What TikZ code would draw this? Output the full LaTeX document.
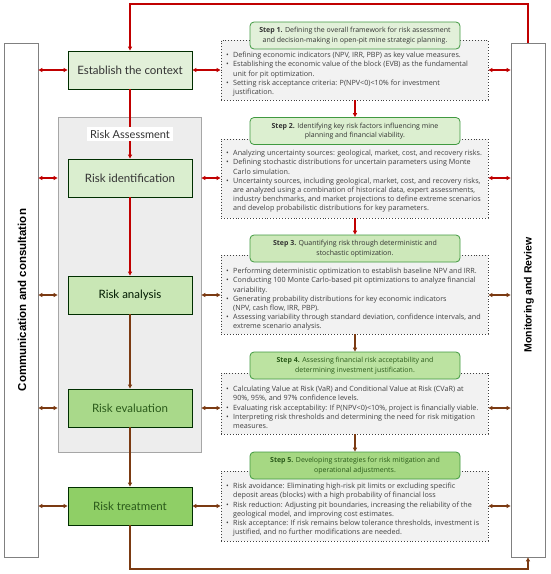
\documentclass[tikz,border=0pt]{standalone}
\usepackage{fontspec}
\setmainfont{Open Sans}
\newfontfamily\labfont{Lato}
\newfontfamily\sidefont{Liberation Sans}
\usetikzlibrary{arrows.meta}
\definecolor{cred}{HTML}{C00000}
\definecolor{cbrown}{HTML}{7B3A12}
\definecolor{gA}{HTML}{E2F0D9}
\definecolor{gB}{HTML}{DAEECF}
\definecolor{gC}{HTML}{C9E7B5}
\definecolor{gD}{HTML}{A9D98A}
\definecolor{gE}{HTML}{8FCF66}
\definecolor{sA}{HTML}{E2F0D9}
\definecolor{sB}{HTML}{DCEFD0}
\definecolor{sC}{HTML}{CDE8BA}
\definecolor{sD}{HTML}{BCE3A1}
\definecolor{sE}{HTML}{A6D883}
\definecolor{txtgray}{HTML}{404040}
\definecolor{dkgreen}{HTML}{2A5A1A}
\newcommand{\bi}{\makebox[7pt][l]{\textbullet}}
\newcommand{\ci}{\hspace*{7pt}}
\tikzset{
  procbox/.style={draw=black!70!green!60!black, line width=0.9pt, minimum width=124pt, minimum height=38pt, inner sep=0pt, font=\labfont\fontsize{11.5}{13}\selectfont},
  sidebar/.style={draw=black!50, fill=white, line width=0.8pt, minimum width=34pt, minimum height=514pt, inner sep=0pt},
  sidetext/.style={rotate=90, font=\sidefont\bfseries\fontsize{10.5}{12}\selectfont},
  steptitle/.style={draw=black!30!green!50!gray, line width=0.8pt, rounded corners=4pt, minimum width=210pt, minimum height=27pt, inner sep=0pt, align=center, font=\fontsize{7}{9.5}\selectfont},
  stepbody/.style={draw=black!75, dotted, line width=0.9pt, fill=black!5, minimum width=267pt, inner sep=0pt},
  bodytext/.style={anchor=north west, inner sep=0pt, align=left, text=txtgray, font=\fontsize{7.2}{9.2}\selectfont},
  rline/.style={draw=cred, line width=1.3pt},
  bline/.style={draw=cbrown, line width=1.3pt},
  tip/.style={-{Triangle[length=4pt,width=4pt]}},
  dtip/.style={{Triangle[length=4pt,width=4pt]}-{Triangle[length=4pt,width=4pt]}}
}
\begin{document}
\begin{tikzpicture}[x=1pt,y=-1pt]
\useasboundingbox (0,0) rectangle (550,574);
% side bars
\node[sidebar] (lb) at (21,300) {};
\node[sidebar] (rb) at (528,300) {};
\node[sidetext, font=\sidefont\bfseries\fontsize{11.5}{13}\selectfont] (lbt) at (22,300) {Communication and consultation};
\node[sidetext] (rbt) at (529,295) {Monitoring and Review};
% risk assessment area
\node[draw=black!35, fill=black!7, line width=0.8pt, minimum width=143pt, minimum height=335pt, inner sep=0pt] (ra) at (129.5,284.5) {};
% step body boxes
\node[stepbody, minimum height=60pt] (t1) at (354.5,70) {};
\node[stepbody, minimum height=79pt] (t2) at (354.5,178.5) {};
\node[stepbody, minimum height=79pt] (t3) at (354.5,294.5) {};
\node[stepbody, minimum height=61pt] (t4) at (354.5,403.5) {};
\node[stepbody, minimum height=70pt] (t5) at (354.5,506) {};
% process boxes
\node[procbox, fill=gA, text=black!80] (est) at (130,70) {Establish the context};
\node[procbox, fill=gB, text=black!80] (ri) at (130,178) {Risk identification};
\node[procbox, fill=gC, text=black!75!green!40!black] (ran) at (130,295) {Risk analysis};
\node[procbox, fill=gD, text=dkgreen] (rev) at (130,408) {Risk evaluation};
\node[procbox, fill=gE, text=dkgreen] (rt) at (130,506) {Risk treatment};
% top and bottom loops
\coordinate (topc) at (130,4);
\coordinate (botc) at (130,569);
\draw[rline, tip] (rb.north) |- (topc) -- (est.north);
\draw[bline, tip] (rt.south) -- (botc) -| (rb.south);
% vertical flow
\draw[rline, tip] (est.south) -- (ri.north);
\draw[rline, tip] (ri.south) -- (ran.north);
\draw[bline, tip] (ran.south) -- (rev.north);
\draw[bline, tip] (rev.south) -- (rt.north);
\node[fill=white, inner sep=3pt, font=\labfont\fontsize{11}{13}\selectfont, text=black!80] (ral) at (130,134) {Risk Assessment};
% left arrows
\draw[rline, dtip] (lb.east |- est) -- (est.west);
\draw[rline, dtip] (lb.east |- ri) -- (ra.west |- ri);
\draw[bline, dtip] (lb.east |- ran) -- (ra.west |- ran);
\draw[bline, dtip] (lb.east |- rev) -- (ra.west |- rev);
\draw[bline, dtip] (lb.east |- rt) -- (rt.west);
% right arrows to bodies
\draw[rline, dtip] (est.east) -- (t1.west |- est);
\draw[rline, dtip] (ra.east |- ri) -- (t2.west |- ri);
\draw[bline, dtip] (ra.east |- ran) -- (t3.west |- ran);
\draw[bline, dtip] (ra.east |- rev) -- (t4.west |- rev);
\draw[bline, dtip] (rt.east) -- (t5.west |- rt);
% bodies to right bar
\draw[rline, dtip] (t1.east) -- (rb.west |- t1);
\draw[rline, dtip] (t2.east |- ri) -- (rb.west |- ri);
\draw[bline, dtip] (t3.east |- ran) -- (rb.west |- ran);
\draw[bline, dtip] (t4.east |- rev) -- (rb.west |- rev);
\draw[bline, dtip] (t5.east |- rt) -- (rb.west |- rt);
% step titles
\node[steptitle, fill=sA, text=black!80] (s1) at (355,35.5) {\textbf{Step 1.} Defining the overall framework for risk assessment\\and decision-making in open-pit mine strategic planning.};
\node[steptitle, fill=sB, text=black!80] (s2) at (355,131) {\textbf{Step 2.} Identifying key risk factors influencing mine\\planning and financial viability.};
\node[steptitle, fill=sC, text=black!80] (s3) at (355,248.5) {\textbf{Step 3.} Quantifying risk through deterministic and\\stochastic optimization.};
\node[steptitle, fill=sD, text=dkgreen] (s4) at (355,365.5) {\textbf{Step 4.} Assessing financial risk acceptability and\\determining investment justification.};
\node[steptitle, fill=sE, text=dkgreen] (s5) at (355,465.5) {\textbf{Step 5.} Developing strategies for risk mitigation and\\operational adjustments.};
% step connectors
\draw[rline, tip] (t1.south -| s2.north) -- (s2.north);
\draw[rline, tip] (t2.south -| s3.north) -- (s3.north);
\draw[bline, tip] (t3.south -| s4.north) -- (s4.north);
\draw[bline, tip] (t4.south -| s5.north) -- (s5.north);
% body texts
\node[bodytext] (b1) at (226,52) {\bi Defining economic indicators (NPV, IRR, PBP) as key value measures.\\
\bi Establishing the economic value of the block (EVB) as the fundamental\\
\ci unit for pit optimization.\\
\bi Setting risk acceptance criteria: P(NPV<0)<10\% for investment\\
\ci justification.};
\node[bodytext] (b2) at (226,150) {\bi Analyzing uncertainty sources: geological, market, cost, and recovery risks.\\
\bi Defining stochastic distributions for uncertain parameters using Monte\\
\ci Carlo simulation.\\
\bi Uncertainty sources, including geological, market, cost, and recovery risks,\\
\ci are analyzed using a combination of historical data, expert assessments,\\
\ci industry benchmarks, and market projections to define extreme scenarios\\
\ci and develop probabilistic distributions for key parameters.};
\node[bodytext] (b3) at (226,268) {\bi Performing deterministic optimization to establish baseline NPV and IRR.\\
\bi Conducting 100 Monte Carlo-based pit optimizations to analyze financial\\
\ci variability.\\
\bi Generating probability distributions for key economic indicators\\
\ci (NPV, cash flow, IRR, PBP).\\
\bi Assessing variability through standard deviation, confidence intervals, and\\
\ci extreme scenario analysis.};
\node[bodytext] (b4) at (226,386) {\bi Calculating Value at Risk (VaR) and Conditional Value at Risk (CVaR) at\\
\ci 90\%, 95\%, and 97\% confidence levels.\\
\bi Evaluating risk acceptability: If P(NPV<0)<10\%, project is financially viable.\\
\bi Interpreting risk thresholds and determining the need for risk mitigation\\
\ci measures.};
\node[bodytext] (b5) at (226,483) {\bi Risk avoidance: Eliminating high-risk pit limits or excluding specific\\
\ci deposit areas (blocks) with a high probability of financial loss\\
\bi Risk reduction: Adjusting pit boundaries, increasing the reliability of the\\
\ci geological model, and improving cost estimates.\\
\bi Risk acceptance: If risk remains below tolerance thresholds, investment is\\
\ci justified, and no further modifications are needed.};
\end{tikzpicture}
\end{document}
